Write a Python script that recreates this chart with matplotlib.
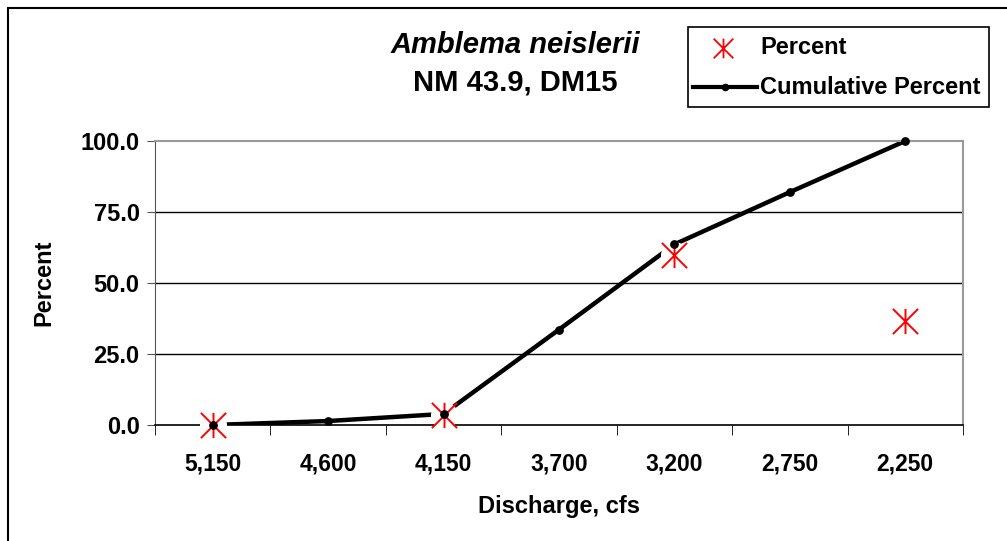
import matplotlib
matplotlib.use("Agg")
import matplotlib.pyplot as plt
from matplotlib.patches import Rectangle
from matplotlib.path import Path
import numpy as np

categories = ["5,150", "4,600", "4,150", "3,700", "3,200", "2,750", "2,250"]
percent_idx = [0, 2, 4, 6]
percent_vals = [0.0, 3.6, 60.0, 36.6]
cumulative = [0.0, 1.4, 3.9, 33.6, 63.6, 82.0, 100.0]
yticks = [0, 25, 50, 75, 100]

plt.rcParams['font.family'] = ['Liberation Sans', 'DejaVu Sans']
plt.rcParams['font.weight'] = 'bold'

W, H = 1007, 541
fig = plt.figure(figsize=(W/100, H/100), dpi=100)
ax = fig.add_axes([155/W, 1-425/H, (963-155)/W, (425-141)/H])

star = Path([(-1, -1), (1, 1), (-1, 1), (1, -1), (0, -1), (0, 1)],
            [Path.MOVETO, Path.LINETO, Path.MOVETO, Path.LINETO, Path.MOVETO, Path.LINETO])
x = np.arange(len(categories))
ax.plot(x, cumulative, color='black', lw=3.2, zorder=2, solid_capstyle='butt')
ax.scatter(percent_idx, percent_vals, s=380, color='white', marker='o', zorder=3, linewidths=0, clip_on=False)
ax.scatter(percent_idx, percent_vals, s=330, color='red', marker=star, linewidths=1.4, zorder=4, clip_on=False)
ax.scatter(x, cumulative, s=28, color='black', zorder=5, clip_on=False)

ax.set_xlim(-0.5, len(categories)-0.5)
ax.set_ylim(0, 100)
ax.set_yticks(yticks)
ax.set_yticklabels([f"{v:.1f}" for v in yticks], fontsize=17, fontweight='bold')
ax.set_xticks(x)
ax.set_xticklabels(categories, fontsize=16.5, fontweight='bold')
ax.tick_params(axis='x', length=0, pad=20)
ax.set_xticks(np.arange(-0.5, len(categories)), minor=True)
ax.tick_params(axis='x', which='minor', length=7, direction='out', color='black')
ax.tick_params(axis='y', length=6, direction='out', color='#555555', pad=5)
for v in [25, 50, 75]:
    ax.axhline(v, color='black', lw=1, zorder=1)
for s in ['top', 'right']:
    ax.spines[s].set_color('#999999')
    ax.spines[s].set_linewidth(1.5)
ax.spines['left'].set_color('#555555')
ax.spines['bottom'].set_color('black')
ax.spines['bottom'].set_linewidth(1.2)

ax.set_xlabel("Discharge, cfs", fontsize=17, fontweight='bold', labelpad=14)
ax.set_ylabel("Percent", fontsize=17, fontweight='bold', labelpad=18)

fig.text(515/W, 1-45/H, "Amblema neislerii", fontsize=21, fontweight='bold', style='italic', ha='center', va='center')
fig.text(515/W, 1-83/H, "NM 43.9, DM15", fontsize=21, fontweight='bold', ha='center', va='center')

# figure border
fig.patches.append(Rectangle((8/W, -0.1), 1.2, 1-8/H+0.1, transform=fig.transFigure, fill=False, edgecolor='black', lw=1.5))

# legend
fig.patches.append(Rectangle((688/W, 1-107/H), (989-688)/W, 80/H, transform=fig.transFigure, fill=False, edgecolor='black', lw=1.2))
lx = fig.add_axes([688/W, 1-107/H, (989-688)/W, 80/H])
lx.set_xlim(688, 989); lx.set_ylim(107, 27); lx.axis('off')
lx.scatter([723], [48], s=200, color='red', marker=star, linewidths=1.3)
lx.plot([693, 757], [87, 87], color='black', lw=3)
lx.scatter([725], [87], s=20, color='black', zorder=3)
lx.text(760, 48, "Percent", fontsize=17, fontweight='bold', va='center')
lx.text(760, 87, "Cumulative Percent", fontsize=17, fontweight='bold', va='center')

fig.savefig("out.png", dpi=100)
